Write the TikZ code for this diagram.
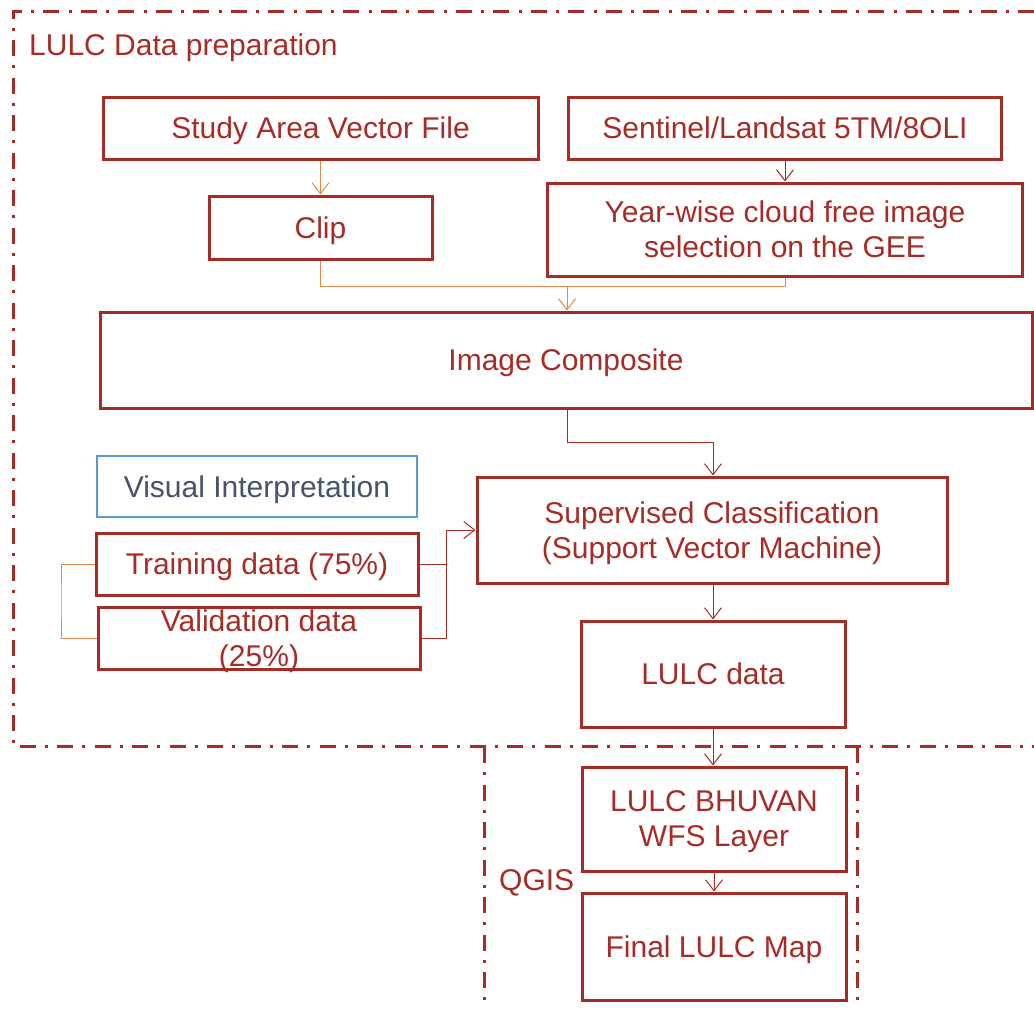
\documentclass[tikz,border=0pt]{standalone}
\usepackage{fontspec}
\setmainfont{Liberation Sans}
\usetikzlibrary{arrows.meta}
\definecolor{myred}{RGB}{168,44,38}
\definecolor{myorange}{RGB}{230,135,75}
\definecolor{myblue}{RGB}{91,155,213}
\definecolor{myslate}{RGB}{68,84,106}
\begin{document}
\begin{tikzpicture}[x=1pt,y=-1pt,
  box/.style={draw=myred, line width=3pt, text=myred, font=\fontsize{30}{35}\selectfont, inner sep=0pt, align=center, rectangle, text depth=0pt},
  bluebox/.style={box, draw=myblue, line width=2pt, text=myslate},
  tip/.style={-{Straight Barb[length=11pt,width=17pt,line width=1pt]}},
  rline/.style={draw=myred, line width=1pt},
  oline/.style={draw=myorange, line width=1pt},
  frame/.style={draw=myred, line width=3pt, dash pattern=on 16pt off 9pt on 3pt off 9.5pt},
  lbl/.style={text=myred, font=\fontsize{30}{35}\selectfont, inner sep=0pt}
]
\useasboundingbox (0,0) rectangle (1034,1009);
\fill[white] (0,0) rectangle (1034,1009);

% frames
\draw[frame] (1034,11) -- (13,11) -- (13,746) -- (1034,746);
\draw[frame] (484,747) -- (484,1009);
\draw[frame] (857,747) -- (857,1009);

\node[lbl, anchor=west] (title) at (29,48) {LULC Data preparation};
\node[lbl, anchor=west] (qgis) at (499,883) {QGIS};

% boxes
\node[box, minimum width=435pt, minimum height=62pt] (sa) at (320.5,128) {Study Area Vector File};
\node[box, minimum width=433pt, minimum height=62pt] (sen) at (785,128) {Sentinel/Landsat 5TM/8OLI};
\node[box, minimum width=223pt, minimum height=63pt] (clip) at (320.5,227.5) {Clip};
\node[box, minimum width=475pt, minimum height=93pt] (yw) at (785,229.5) {Year-wise cloud free image\\selection on the GEE};
\node[box, minimum width=932pt, minimum height=96pt] (ic) at (566,360) {Image Composite};
\node[bluebox, minimum width=320pt, minimum height=61pt] (vi) at (257,486.5) {Visual Interpretation};
\node[box, minimum width=322pt, minimum height=62pt] (tr) at (257,564) {Training data (75\%)};
\node[box, minimum width=322pt, minimum height=62pt] (va) at (259,638) {Validation data\\(25\%)};
\node[box, minimum width=470pt, minimum height=106pt] (sc) at (712,530) {Supervised Classification\\(Support Vector Machine)};
\node[box, minimum width=264pt, minimum height=106pt] (ld) at (713,674) {LULC data};
\node[box, minimum width=264pt, minimum height=104pt] (bh) at (714,819) {LULC BHUVAN\\WFS Layer};
\node[box, minimum width=264pt, minimum height=107pt] (fm) at (714,946.5) {Final LULC Map};

% connectors
\draw[oline, tip] (sa.south) -- (clip.north);
\draw[rline, tip] (sen.south) -- (yw.north);

\coordinate (j1) at (567,286);
\draw[oline] (clip.south) |- (j1);
\draw[oline] (yw.south) |- (j1);
\draw[oline, tip] (j1) -- (j1 |- ic.north);

\coordinate (j2) at (713,442);
\draw[rline] (ic.south -| j1) |- (j2);
\draw[rline, tip] (j2) -- (j2 |- sc.north);

\coordinate (j3) at (446,530);
\draw[rline] (tr.east) -| (j3);
\draw[rline] (va.east) -| (j3);
\draw[rline, tip] (j3) -- (sc.west);

\coordinate (j4) at (61,600);
\draw[oline] (tr.west) -| (j4) |- (va.west);

\draw[rline, tip] (sc.south -| j2) -- (j2 |- ld.north);
\draw[rline, tip] (ld.south) -- (ld.south |- bh.north);
\draw[rline, tip] (bh.south) -- (fm.north);
\end{tikzpicture}
\end{document}
